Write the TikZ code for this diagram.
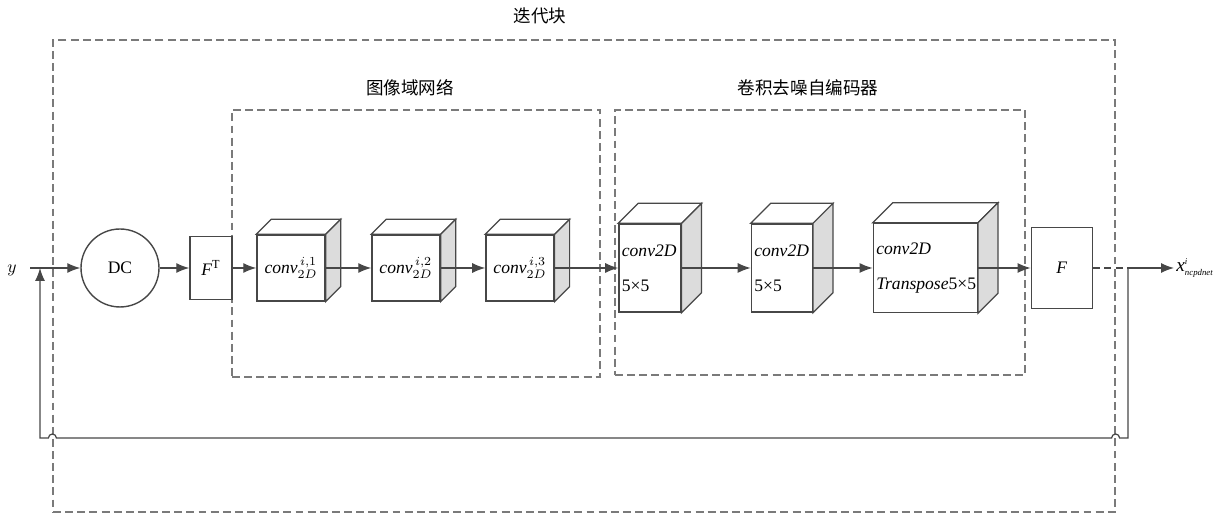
\documentclass[tikz,border=0pt]{standalone}
\usepackage{amsmath}
\usepackage{fontspec}
\setmainfont{Liberation Serif}
\newfontfamily\cjk{Noto Sans CJK SC}
\usepackage{tikz}
\usetikzlibrary{arrows.meta,positioning,calc}
\definecolor{linegray}{HTML}{474747}
\definecolor{dashgray}{HTML}{7A7A7A}
\definecolor{sidegray}{HTML}{DCDCDC}
% top and side faces of a box, #1 = front node, #2 = depth
\newcommand{\cubefaces}[2]{%
  \filldraw[draw=linegray,fill=white] (#1.north west) -- ++(#2,-#2) -- ($(#1.north east)+(#2,-#2)$) -- (#1.north east) -- cycle;
  \filldraw[draw=linegray,fill=sidegray] (#1.north east) -- ++(#2,-#2) -- ($(#1.south east)+(#2,-#2)$) -- (#1.south east) -- cycle;}
\newcommand{\tinyit}[1]{\text{\fontsize{5}{6}\selectfont\itshape #1}}

\begin{document}
\begin{tikzpicture}[x=0.02cm,y=-0.02cm,>={Latex[length=2.6mm,width=2mm]},node distance=2cm,on grid,line width=0.7pt,font=\fontsize{10}{12}\selectfont]
\tikzstyle{blk} = [rectangle,draw=linegray,fill=white,line width=0.8pt]
\tikzstyle{cube} = [blk,inner sep=1pt]
\tikzstyle{bigcube} = [blk,align=left,inner sep=0.06cm]
\tikzstyle{grp} = [rectangle,draw=dashgray,line width=0.8pt,dash pattern=on 4.5pt off 2.4pt]
    \useasboundingbox (0,0) rectangle (1225,519);

    % dashed groups
    \node[grp,minimum width=21.24cm,minimum height=9.44cm] (iter) at (584,276) {};
    \node[grp,minimum width=7.36cm,minimum height=5.34cm] (img) at (416,243.5) {};
    \node[grp,minimum width=8.2cm,minimum height=5.3cm] (enc) at (820,242.5) {};
    \node (iterlab) at (540,16) {\cjk 迭代块};
    \node (imglab) at (410,88) {\cjk 图像域网络};
    \node (enclab) at (808,88) {\cjk 卷积去噪自编码器};

    % main chain
    \node (ylab) at (12,270) {$y$};
    \coordinate (yin) at (30,268);
    \coordinate (join) at (40,268);
    \node[circle,draw=linegray,fill=white,line width=0.8pt,minimum size=1.56cm] (dc) at (120,268) {DC};
    \node[blk,minimum width=0.84cm,minimum height=1.26cm,right=1.82cm of dc] (ft) {\textit{F}$^{\mathrm{T}}$};
    \node[cube,minimum width=1.36cm,minimum height=1.32cm,right=1.6cm of ft] (c1) {$\textit{conv}^{\,i,1}_{2D}$};
    \node[cube,minimum width=1.36cm,minimum height=1.32cm,right=2.3cm of c1] (c2) {$\textit{conv}^{\,i,2}_{2D}$};
    \node[cube,minimum width=1.36cm,minimum height=1.32cm,right=2.28cm of c2] (c3) {$\textit{conv}^{\,i,3}_{2D}$};
    \node[bigcube,minimum width=1.24cm,minimum height=1.76cm,text width=1.12cm,right=2.6cm of c3] (c4) {\textit{conv2D}\\[8pt]5×5};
    \node[bigcube,minimum width=1.22cm,minimum height=1.76cm,text width=1.1cm,right=2.64cm of c4] (c5) {\textit{conv2D}\\[8pt]5×5};
    \node[bigcube,minimum width=2.08cm,minimum height=1.78cm,text width=1.96cm,right=2.87cm of c5] (c6) {\textit{conv2D}\\[8pt]\textit{Transpose}5×5};
    \node[blk,minimum width=1.22cm,minimum height=1.62cm,right=2.73cm of c6] (f) {\textit{F}};
    \coordinate[right=0.7cm of f.east] (out);
    \node[anchor=west,inner sep=1pt,font=\fontsize{11}{12}\selectfont] (xout) at (1174,268) {\textit{x}$^{\tinyit{i}}_{\tinyit{ncpdnet}}$};

    \cubefaces{c1}{15}
    \cubefaces{c2}{15}
    \cubefaces{c3}{15}
    \cubefaces{c4}{20}
    \cubefaces{c5}{20}
    \cubefaces{c6}{20}

    % feedback
    \coordinate (fbR) at (1128,438);
    \coordinate (fbL) at (40,438);

    \tikzset{flow/.style={->,draw=linegray}}
    \draw[flow] (yin) -- (dc);
    \draw[flow] (dc) -- (ft);
    \draw[flow] (ft) -- (c1);
    \draw[flow] (c1) -- (c2);
    \draw[flow] (c2) -- (c3);
    \draw[flow] (c3) -- (c4);
    \draw[flow] (c4) -- (c5);
    \draw[flow] (c5) -- (c6);
    \draw[flow] (c6) -- (f);
    \draw[draw=linegray,dash pattern=on 4pt off 2.5pt] (f) -- (out);
    \draw[flow] (out) -- (out -| xout.west);
    \draw[flow] (out) -- (fbR) -- ($(iter.east |- fbR)+(4,0)$) arc[start angle=0,end angle=180,radius=0.08cm]
        -- ($(iter.west |- fbR)+(4,0)$) arc[start angle=0,end angle=180,radius=0.08cm] -- (fbL) -- (join);
\end{tikzpicture}
\end{document}
